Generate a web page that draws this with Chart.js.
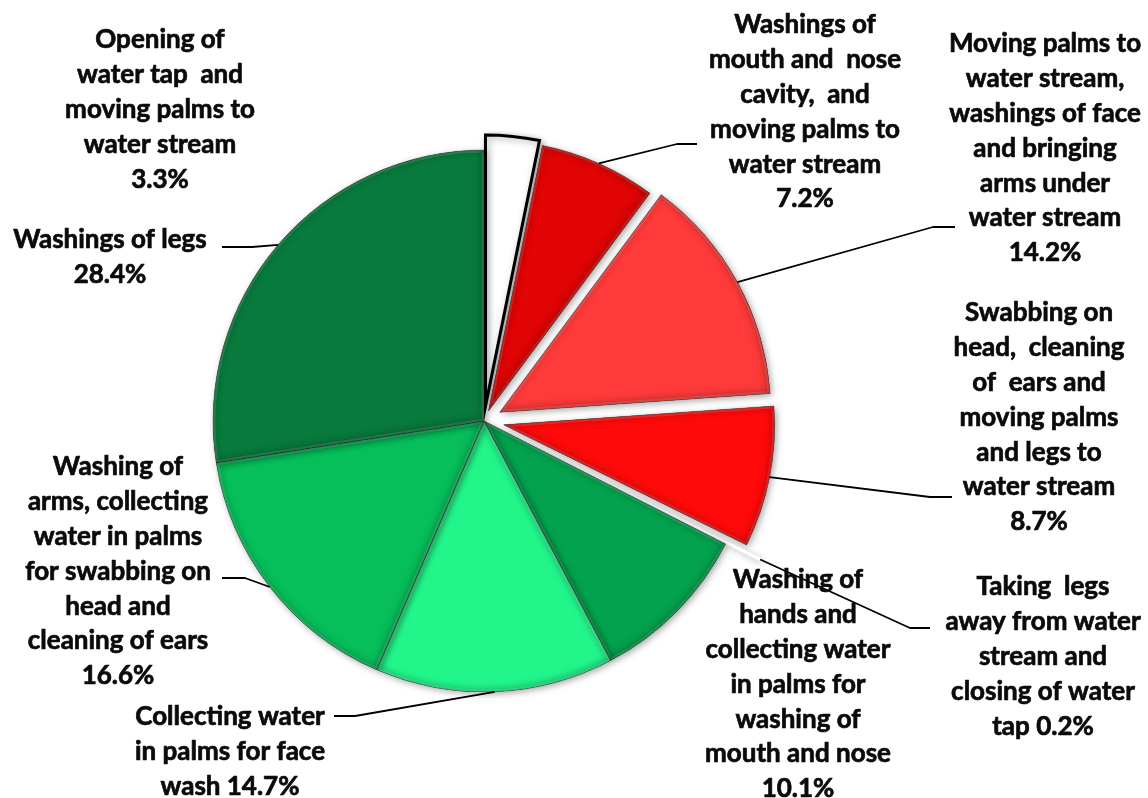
<!DOCTYPE html>
<html lang="en">
<head>
<meta charset="UTF-8">
<title>Ablution steps - water use</title>
<script src="https://cdn.jsdelivr.net/npm/chart.js"></script>
<style>
  html, body { margin: 0; padding: 0; background: #fff; }
  #wrap { width: 1148px; height: 798px; position: relative; }
</style>
</head>
<body>
<div id="wrap"><canvas id="pieChart"></canvas></div>
<script>
// slices, clockwise from 12 o'clock
const labelLines = [
  ['Opening of', 'water tap  and', 'moving palms to', 'water stream'],
  ['Washings of', 'mouth and  nose', 'cavity,  and', 'moving palms to', 'water stream'],
  ['Moving palms to', 'water stream,', 'washings of face', 'and bringing', 'arms under', 'water stream'],
  ['Swabbing on', 'head,  cleaning', 'of  ears and', 'moving palms', 'and legs to', 'water stream'],
  ['Taking  legs', 'away from water', 'stream and', 'closing of water', 'tap'],
  ['Washing of', 'hands and', 'collecting water', 'in palms for', 'washing of', 'mouth and nose'],
  ['Collecting water', 'in palms for face', 'wash'],
  ['Washing of', 'arms, collecting', 'water in palms', 'for swabbing on', 'head and', 'cleaning of ears'],
  ['Washings of legs']
];
const categories = labelLines.map(l => l.join(' '));
const values = [3.3, 7.2, 14.2, 8.7, 0.2, 10.1, 14.7, 16.6, 28.4];
// percent goes on its own line, or at the end of the last text line
const pctInline = [false, false, false, false, true, false, true, false, false];

const sliceColors = ['#ffffff', '#e00404', '#ff3a3a', '#ff0a0a', '#ffffff',
                     '#03a24e', '#22f68b', '#06be5a', '#087a3c'];

// layout stuff (pixels), kept apart from the data
const explodeBy = [15, 11, 18, 20, 38, 0, 0, 0, 0];
const labelPos = [
  { x: 160, y: 40 },
  { x: 805, y: 25 },
  { x: 1045, y: 44 },
  { x: 1039, y: 313 },
  { x: 1043, y: 587 },
  { x: 798, y: 580 },
  { x: 230, y: 717 },
  { x: 118, y: 467 },
  { x: 110, y: 240 }
];
// [stub end at text, y, elbow x] ; null = no leader
const leaders = [
  null,
  [697, 144, 677],
  [955, 227, 933],
  [952, 497, 930],
  [930, 628, 910],
  null,
  [334, 716, 355],
  [222, 578, 245],
  [222, 247, 252]
];
const LINE_H = 34.8;
const FONT = 'bold 26px Lato, "Open Sans", sans-serif';

function arcPath(ctx, a) {
  ctx.beginPath();
  ctx.moveTo(a.x, a.y);
  ctx.arc(a.x, a.y, a.outerRadius, a.startAngle, a.endAngle);
  ctx.closePath();
}

const explodePlugin = {
  id: 'explode',
  afterDatasetUpdate(chart, args) {
    const meta = chart.getDatasetMeta(args.index);
    meta.data.forEach((arc, i) => {
      const d = explodeBy[i] || 0;
      if (!d) return;
      const mid = (arc.startAngle + arc.endAngle) / 2;
      arc.x += Math.cos(mid) * d;
      arc.y += Math.sin(mid) * d;
    });
  },
  beforeDatasetDraw(chart) {
    const ctx = chart.ctx;
    ctx.save();
    ctx.shadowColor = 'rgba(0,0,0,0.35)';
    ctx.shadowBlur = 7;
    ctx.shadowOffsetX = 2;
    ctx.shadowOffsetY = 2;
  },
  afterDatasetDraw(chart, args) {
    const ctx = chart.ctx;
    ctx.restore();
    // soft bevel on each coloured slice
    const meta = chart.getDatasetMeta(args.index);
    meta.data.forEach((arc, i) => {
      if (sliceColors[i] === '#ffffff') return;
      const a = arc.getProps(['x', 'y', 'startAngle', 'endAngle', 'outerRadius'], true);
      ctx.save();
      arcPath(ctx, a);
      ctx.clip();
      ctx.beginPath();
      ctx.rect(0, 0, chart.width, chart.height);
      ctx.moveTo(a.x, a.y);
      ctx.arc(a.x, a.y, a.outerRadius, a.startAngle, a.endAngle);
      ctx.closePath();
      ctx.shadowColor = 'rgba(0,0,0,0.4)';
      ctx.shadowBlur = 10;
      ctx.shadowOffsetX = -1;
      ctx.shadowOffsetY = -1;
      ctx.fillStyle = '#000';
      ctx.fill('evenodd');
      // light rim
      arcPath(ctx, a);
      ctx.shadowColor = 'transparent';
      ctx.lineWidth = 5;
      ctx.strokeStyle = 'rgba(255,255,255,0.12)';
      ctx.stroke();
      ctx.restore();
    });
  }
};

const labelPlugin = {
  id: 'sliceLabels',
  afterDraw(chart) {
    const ctx = chart.ctx;
    const meta = chart.getDatasetMeta(0);
    ctx.save();
    ctx.font = FONT;
    ctx.fillStyle = '#0a0a0a';
    ctx.textAlign = 'center';
    ctx.textBaseline = 'middle';
    ctx.lineJoin = 'round';
    labelLines.forEach((lines, i) => {
      const pct = values[i].toFixed(1) + '%';
      const rows = lines.slice();
      if (pctInline[i]) rows[rows.length - 1] += ' ' + pct;
      else rows.push(pct);
      rows.forEach((t, k) => {
        const ty = labelPos[i].y + k * LINE_H;
        // thin stroke to make the bold a bit heavier
        ctx.strokeStyle = '#0a0a0a';
        ctx.lineWidth = 0.7;
        ctx.strokeText(t, labelPos[i].x, ty);
        ctx.fillText(t, labelPos[i].x, ty);
      });

      const ld = leaders[i];
      if (!ld) return;
      const a = meta.data[i].getProps(['x', 'y', 'startAngle', 'endAngle', 'outerRadius'], true);
      const mid = (a.startAngle + a.endAngle) / 2;
      const px = a.x + Math.cos(mid) * a.outerRadius;
      const py = a.y + Math.sin(mid) * a.outerRadius;
      ctx.beginPath();
      ctx.moveTo(ld[0], ld[1]);
      ctx.lineTo(ld[2], ld[1]);
      ctx.lineTo(px, py);
      ctx.strokeStyle = '#000';
      ctx.lineWidth = 1.8;
      ctx.stroke();
    });
    ctx.restore();
  }
};

new Chart(document.getElementById('pieChart'), {
  type: 'pie',
  data: {
    labels: categories,
    datasets: [{
      data: values,
      backgroundColor: sliceColors,
      borderColor: sliceColors.map((c, i) => i === 0 ? '#000000' : 'rgba(0,0,0,0.25)'),
      borderWidth: sliceColors.map((c, i) => i === 0 ? 3 : (c === '#ffffff' ? 0 : 1)),
      borderJoinStyle: 'miter'
    }]
  },
  options: {
    responsive: true,
    maintainAspectRatio: false,
    animation: false,
    radius: 271,
    layout: { padding: { left: 0, right: 180, top: 44, bottom: 0 } },
    plugins: {
      legend: { display: false },
      tooltip: { enabled: false }
    }
  },
  plugins: [explodePlugin, labelPlugin]
});
</script>
</body>
</html>
